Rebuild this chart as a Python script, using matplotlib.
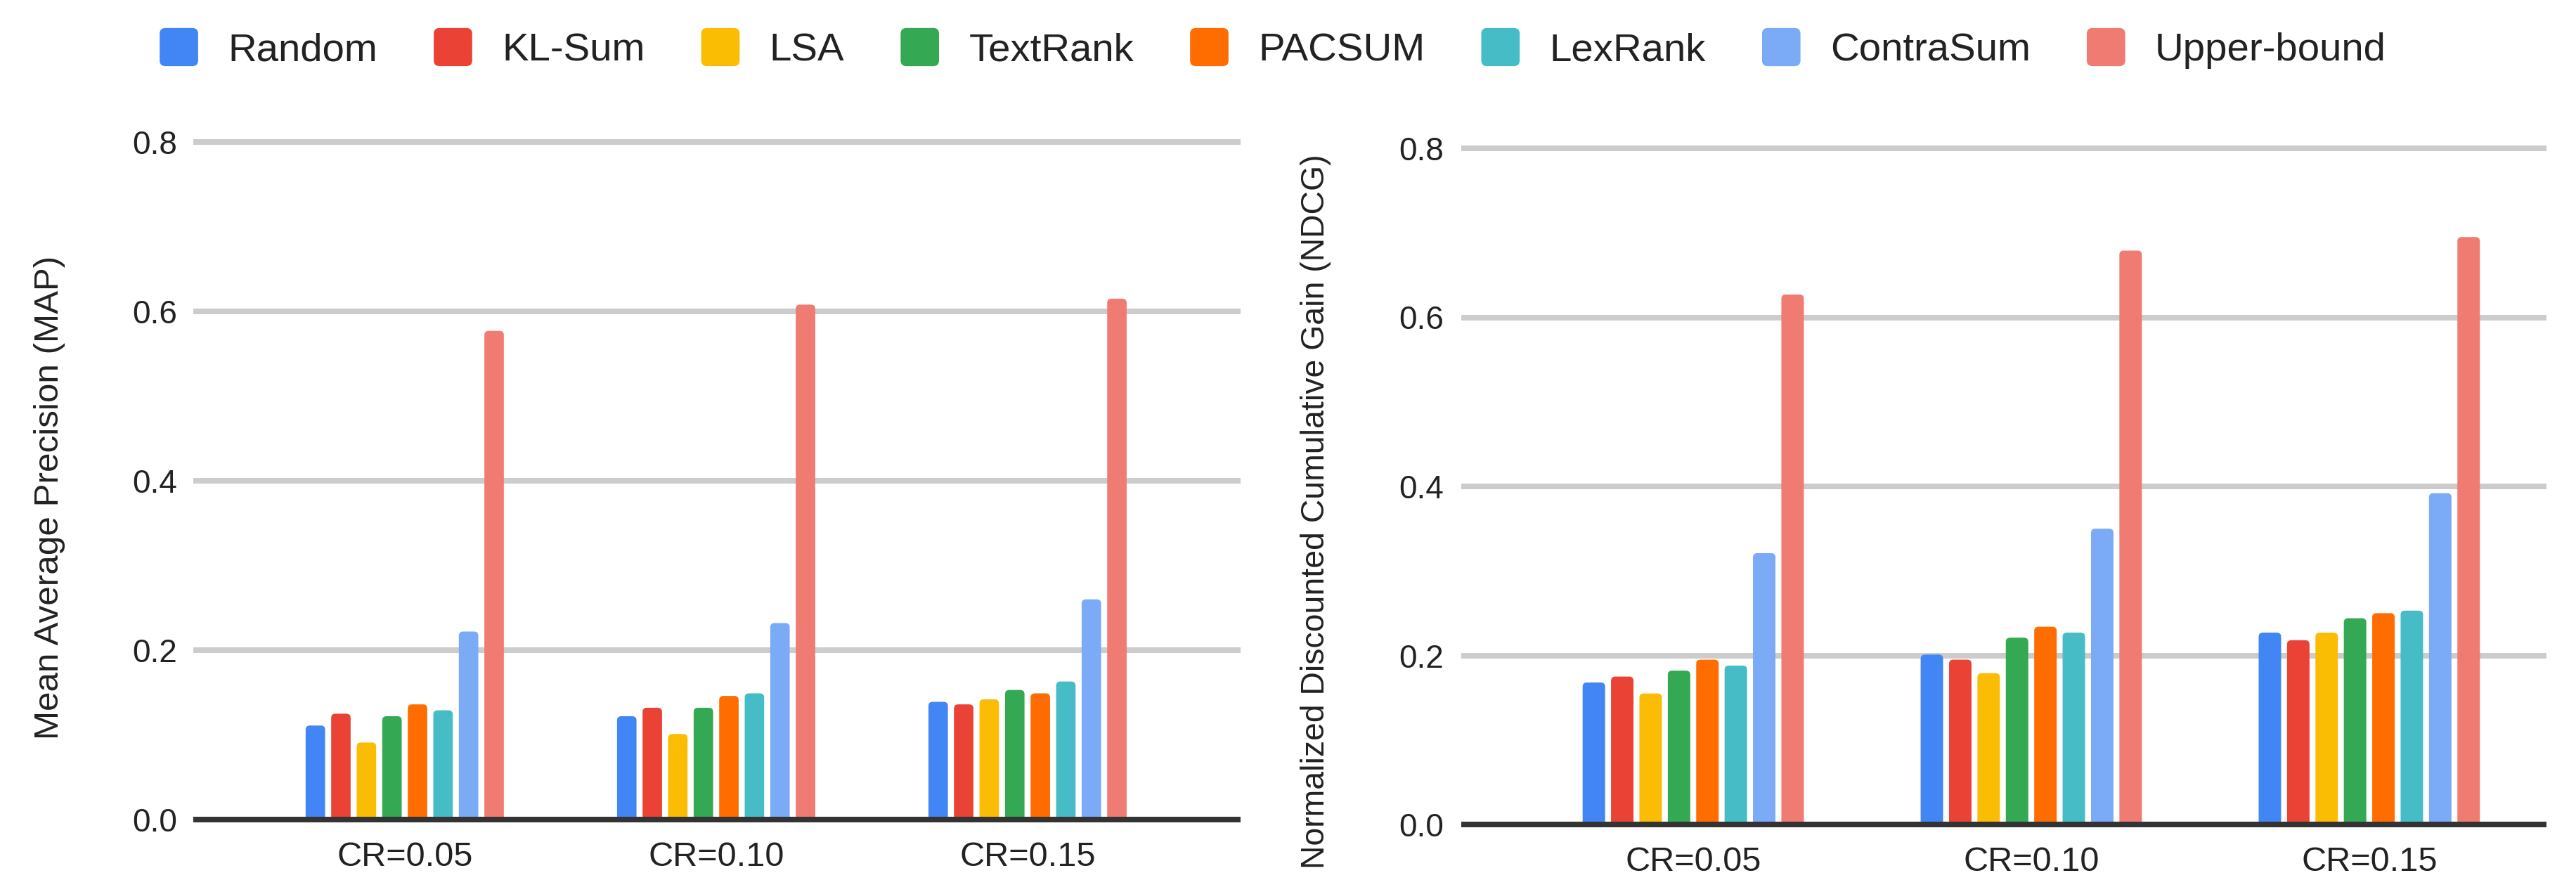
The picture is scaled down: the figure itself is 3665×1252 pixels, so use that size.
import matplotlib
matplotlib.use("Agg")
import matplotlib.pyplot as plt
import numpy as np
from matplotlib.patches import FancyBboxPatch, BoxStyle
from matplotlib.legend_handler import HandlerBase
from matplotlib.patches import Patch

plt.rcParams['font.family'] = ['Liberation Sans', 'DejaVu Sans']

# ---------------- data ----------------
categories = ["CR=0.05", "CR=0.10", "CR=0.15"]
methods = ["Random", "KL-Sum", "LSA", "TextRank", "PACSUM", "LexRank", "ContraSum", "Upper-bound"]
colors = ["#4285F4", "#EA4335", "#FBBC04", "#34A853", "#FF6D01", "#46BDC6", "#7BAAF7", "#F07B72"]

map_random = [0.111, 0.122, 0.139]
map_klsum = [0.125, 0.132, 0.136]
map_lsa = [0.091, 0.101, 0.142]
map_textrank = [0.122, 0.132, 0.153]
map_pacsum = [0.136, 0.146, 0.149]
map_lexrank = [0.129, 0.149, 0.163]
map_contrasum = [0.222, 0.232, 0.260]
map_upper = [0.577, 0.608, 0.615]

ndcg_random = [0.168, 0.201, 0.227]
ndcg_klsum = [0.175, 0.195, 0.218]
ndcg_lsa = [0.155, 0.179, 0.227]
ndcg_textrank = [0.182, 0.221, 0.244]
ndcg_pacsum = [0.195, 0.234, 0.250]
ndcg_lexrank = [0.188, 0.227, 0.253]
ndcg_contrasum = [0.321, 0.350, 0.392]
ndcg_upper = [0.627, 0.679, 0.695]

map_series = [map_random, map_klsum, map_lsa, map_textrank, map_pacsum, map_lexrank, map_contrasum, map_upper]
ndcg_series = [ndcg_random, ndcg_klsum, ndcg_lsa, ndcg_textrank, ndcg_pacsum, ndcg_lexrank, ndcg_contrasum, ndcg_upper]

yticks = [0.0, 0.2, 0.4, 0.6, 0.8]
ytick_labels = ["0.0", "0.2", "0.4", "0.6", "0.8"]

# ---------------- figure ----------------
W, H, DPI = 3665, 1252, 200
fig = plt.figure(figsize=(W / DPI, H / DPI), dpi=DPI)

TEXT = "#222222"
GRID = "#CCCCCC"
BASE = "#333333"
px2pt = 72.0 / DPI


def make_panel(rect_px, series, xlim, pitch, width, ypad_pt):
    x0, y0, x1, y1 = rect_px  # left, top, right, bottom (pixels)
    ax = fig.add_axes([x0 / W, 1 - y1 / H, (x1 - x0) / W, (y1 - y0) / H])
    ax.set_xlim(*xlim)
    ax.set_ylim(0, 0.8)
    ppx = (x1 - x0) / (xlim[1] - xlim[0])
    ppy = (y1 - y0) / 0.8
    xc = np.arange(len(categories))
    n = len(series)
    for i, (vals, col) in enumerate(zip(series, colors)):
        xs = xc + (i - (n - 1) / 2) * pitch
        bars = ax.bar(xs, vals, width, color=col, zorder=2)
        for b in bars:
            bx, bw, bh = b.get_x(), b.get_width(), b.get_height()
            b.set_visible(False)
            r = 6.0
            p = FancyBboxPatch((bx, -0.02), bw, bh + 0.02,
                               boxstyle=BoxStyle.Round(pad=0, rounding_size=r / ppx),
                               mutation_aspect=ppx / ppy,
                               fc=col, ec="none", zorder=2)
            ax.add_patch(p)
    for y in yticks[1:]:
        ax.axhline(y, color=GRID, lw=8 * px2pt, zorder=0, clip_on=False)
    ax.axhline(0, color=BASE, lw=8 * px2pt, zorder=3, clip_on=False)
    for s in ax.spines.values():
        s.set_visible(False)
    ax.set_yticks(yticks)
    ax.set_yticklabels(ytick_labels)
    ax.set_xticks(xc)
    ax.set_xticklabels(categories)
    ax.tick_params(axis="y", length=0, pad=ypad_pt, labelsize=16.5, colors=TEXT)
    ax.tick_params(axis="x", length=0, pad=11, labelsize=17.5, colors=TEXT)
    ax.set_facecolor("none")
    return ax


ax1 = make_panel((279, 202, 1761, 1166), map_series, (-0.670, 2.675), 0.082, 0.0625, 27 * px2pt)
ax2 = make_panel((2083, 211, 3619, 1173), ndcg_series, (-0.678, 2.516), 0.084, 0.0665, 29 * px2pt)

fig.text(71 / W, 1 - 708 / H, "Mean Average Precision (MAP)", rotation=90,
         ha="center", va="center", fontsize=17.8, color=TEXT)
fig.text(1872 / W, 1 - 728 / H, "Normalized Discounted Cumulative Gain (NDCG)", rotation=90,
         ha="center", va="center", fontsize=16.7, color=TEXT)


class RoundHandler(HandlerBase):
    def create_artists(self, legend, orig_handle, xdescent, ydescent, width, height, fontsize, trans):
        p = FancyBboxPatch((-xdescent, -ydescent - height * 0.08), width, height * 1.16,
                           boxstyle=BoxStyle.Round(pad=0, rounding_size=width * 0.15),
                           fc=orig_handle.get_facecolor(), ec="none", transform=trans)
        return [p]


handles = [Patch(facecolor=c, label=m) for c, m in zip(colors, methods)]
leg = fig.legend(handles=handles, labels=methods, loc="center", bbox_to_anchor=(1811 / W, 1 - 71 / H),
                 ncol=8, frameon=False, fontsize=20.3, handlelength=0.97, handleheight=0.9,
                 handletextpad=0.75, columnspacing=1.42, labelcolor=TEXT,
                 handler_map={Patch: RoundHandler()})

fig.savefig("out.png", dpi=DPI, facecolor="white")
